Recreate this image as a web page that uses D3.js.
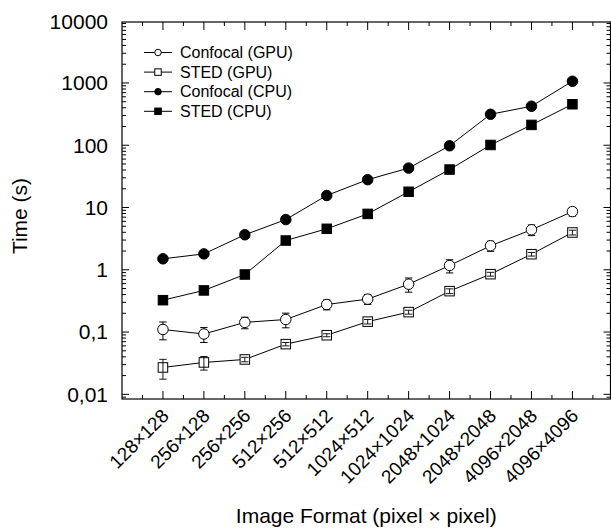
<!DOCTYPE html>
<html>
<head>
<meta charset="utf-8">
<script src="https://cdn.jsdelivr.net/npm/d3@7"></script>
<style>
  html, body { margin: 0; padding: 0; background: #ffffff; }
  svg { display: block; }
  text { font-family: Arial, "Liberation Sans", Helvetica, sans-serif; fill: #000; }
</style>
</head>
<body>
<svg id="chart" width="611" height="529"></svg>
<script>
// Image formats on the x axis
const categories = ["128×128", "256×128", "256×256", "512×256", "512×512", "1024×512",
  "1024×1024", "2048×1024", "2048×2048", "4096×2048", "4096×4096"];

// Processing time in seconds
const confocalGPU    = [0.110, 0.093, 0.143, 0.159, 0.277, 0.338, 0.587, 1.17, 2.43, 4.39, 8.6];
const confocalGPUErr = [0.035, 0.025, 0.030, 0.042, 0.050, 0.060, 0.15, 0.28, 0.45, 0.85, 1.3];
const stedGPU        = [0.027, 0.0325, 0.0363, 0.064, 0.089, 0.147, 0.209, 0.454, 0.85, 1.78, 3.97];
const stedGPUErr     = [0.0095, 0.008, 0.003, 0.004, 0.005, 0.012, 0.015, 0.04, 0.06, 0.12, 0.35];
const confocalCPU    = [1.5, 1.8, 3.65, 6.4, 15.6, 28, 43, 98, 314, 423, 1065];
const stedCPU        = [0.325, 0.466, 0.84, 2.95, 4.55, 7.9, 17.9, 40.7, 101, 212, 455];

// Y axis major tick values and their labels (decimal comma)
const yTickValues = [0.01, 0.1, 1, 10, 100, 1000, 10000];
const yTickLabels = ["0,01", "0,1", "1", "10", "100", "1000", "10000"];

const series = [
  { name: "Confocal (GPU)", values: confocalGPU, err: confocalGPUErr, shape: "circle", filled: false },
  { name: "STED (GPU)",     values: stedGPU,     err: stedGPUErr,     shape: "square", filled: false },
  { name: "Confocal (CPU)", values: confocalCPU, err: null,           shape: "circle", filled: true },
  { name: "STED (CPU)",     values: stedCPU,     err: null,           shape: "square", filled: true }
];

const svg = d3.select("#chart");
const pLeft = 122, pRight = 610.5, pTop = 22, pBottom = 399;

const x = d3.scaleLinear().domain([-1, 10.93]).range([pLeft, pRight]);
const y = d3.scaleLog().domain([Math.pow(10, -2.075), Math.pow(10, 3.979)]).range([pBottom, pTop]);

// Frame
svg.append("rect").attr("x", pLeft).attr("y", pTop)
  .attr("width", pRight - pLeft).attr("height", pBottom - pTop)
  .attr("fill", "none").attr("stroke", "#000").attr("stroke-width", 1.2);

// X ticks (major at categories, minor halfway), pointing inward on bottom and top
const xMajor = d3.range(categories.length);
const xMinor = d3.range(-0.5, categories.length, 1);
const tickG = svg.append("g").attr("stroke", "#000").attr("stroke-width", 1);
[[xMajor, 8], [xMinor, 4]].forEach(([vals, len]) => {
  vals.forEach(v => {
    const px = x(v);
    tickG.append("line").attr("x1", px).attr("x2", px).attr("y1", pBottom).attr("y2", pBottom - len);
    tickG.append("line").attr("x1", px).attr("x2", px).attr("y1", pTop).attr("y2", pTop + len);
  });
});

// Y ticks (log decades and 2..9 minors), inward on left and right
const yMinor = [];
for (let e = -3; e <= 3; e++) for (let m = 2; m <= 9; m++) yMinor.push(m * Math.pow(10, e));
const [yLo, yHi] = y.domain();
[[yTickValues, 7], [yMinor, 4]].forEach(([vals, len]) => {
  vals.filter(v => v >= yLo && v <= yHi).forEach(v => {
    const py = y(v);
    tickG.append("line").attr("x1", pLeft).attr("x2", pLeft + len).attr("y1", py).attr("y2", py);
    tickG.append("line").attr("x1", pRight).attr("x2", pRight - len).attr("y1", py).attr("y2", py);
  });
});

// Y tick labels
svg.append("g").selectAll("text").data(yTickValues).join("text")
  .attr("x", 108).attr("y", d => Math.max(y(d), pTop))
  .attr("dy", "0.35em").attr("text-anchor", "end").attr("font-size", 21)
  .text((d, i) => yTickLabels[i]);

// X tick labels, rotated
svg.append("g").selectAll("text").data(categories).join("text")
  .attr("transform", (d, i) => `translate(${x(i) + 7},${417}) rotate(-45)`)
  .attr("text-anchor", "end").attr("font-size", 19)
  .text(d => d);

// Axis titles
svg.append("text").attr("x", (pLeft + pRight) / 2).attr("y", 523)
  .attr("text-anchor", "middle").attr("font-size", 21).text("Image Format (pixel × pixel)");
svg.append("text").attr("transform", "translate(27,216) rotate(-90)")
  .attr("text-anchor", "middle").attr("font-size", 21).text("Time (s)");

// Marker helper
function drawMarker(g, shape, filled, cx, cy, size) {
  if (shape === "circle") {
    g.append("circle").attr("cx", cx).attr("cy", cy).attr("r", size / 2)
      .attr("fill", filled ? "#000" : "#fff").attr("stroke", "#000").attr("stroke-width", 1);
  } else {
    g.append("rect").attr("x", cx - size / 2).attr("y", cy - size / 2)
      .attr("width", size).attr("height", size)
      .attr("fill", filled ? "#000" : "#fff").attr("stroke", "#000").attr("stroke-width", 1);
  }
}

function drawErr(g, s) {
  s.values.forEach((v, i) => {
    const px = x(i), y1 = y(v + s.err[i]), y2 = y(Math.max(v - s.err[i], 1e-4));
    g.append("line").attr("x1", px).attr("x2", px).attr("y1", y1).attr("y2", y2);
    g.append("line").attr("x1", px - 3.7).attr("x2", px + 3.7).attr("y1", y1).attr("y2", y1);
    g.append("line").attr("x1", px - 3.7).attr("x2", px + 3.7).attr("y1", y2).attr("y2", y2);
  });
}

const line = d3.line().x((d, i) => x(i)).y(d => y(d));
const plot = svg.append("g");
series.forEach(s => {
  const g = plot.append("g");
  g.append("path").attr("d", line(s.values)).attr("fill", "none")
    .attr("stroke", "#000").attr("stroke-width", 1);
  // circles hide their error stems; squares show them on top
  if (s.err && s.shape === "circle") drawErr(g.append("g").attr("stroke", "#000").attr("stroke-width", 1), s);
  const mg = g.append("g");
  s.values.forEach((v, i) => drawMarker(mg, s.shape, s.filled, x(i), y(v), s.shape === "circle" ? 10.5 : 9.5));
  if (s.err && s.shape === "square") drawErr(g.append("g").attr("stroke", "#000").attr("stroke-width", 0.9), s);
});

// Legend
const legend = svg.append("g");
series.forEach((s, i) => {
  const ly = 52.5 + i * 19.6;
  legend.append("line").attr("x1", 144).attr("x2", 172).attr("y1", ly).attr("y2", ly)
    .attr("stroke", "#000").attr("stroke-width", 1);
  drawMarker(legend, s.shape, s.filled, 158, ly, 6.5);
  legend.append("text").attr("x", 180).attr("y", ly).attr("dy", "0.35em")
    .attr("font-size", 16).text(s.name);
});
</script>
</body>
</html>
